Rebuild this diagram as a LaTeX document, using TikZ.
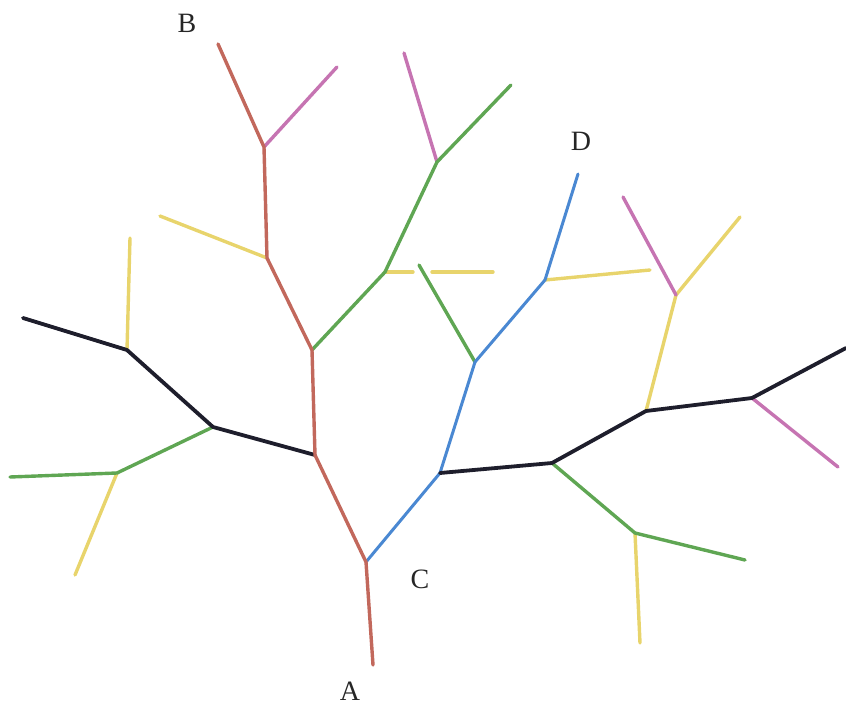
\documentclass[tikz,border=0pt]{standalone}
\usepackage{fontspec}
\setmainfont{Liberation Serif}
\definecolor{cred}{HTML}{C2685C}
\definecolor{cmag}{HTML}{C674B2}
\definecolor{cgreen}{HTML}{5FA653}
\definecolor{cyel}{HTML}{E8D46C}
\definecolor{cblue}{HTML}{4A88D2}
\definecolor{cblack}{HTML}{1E1E2C}
\tikzset{
  br/.style={line width=3.4pt, line cap=round, line join=round},
  redb/.style={br, cred},
  magb/.style={br, cmag},
  greenb/.style={br, cgreen},
  yelb/.style={br, cyel},
  blueb/.style={br, cblue, line width=3pt},
  blackb/.style={br, cblack, line width=3.8pt},
  lab/.style={font=\fontsize{28}{33}\selectfont, text=black!85, inner sep=0pt}
}
\begin{document}
\begin{tikzpicture}[x=1pt,y=-1pt]
\useasboundingbox (0,0) rectangle (846,706);
% red trunk
\coordinate (A) at (373,665);
\coordinate (C) at (366,562);
\coordinate (r1) at (315,455);
\coordinate (r2) at (312,350);
\coordinate (r3) at (267,258);
\coordinate (r4) at (264,147);
\coordinate (Bt) at (218,44);
% other tips and junctions
\coordinate (m1) at (337,67);
\coordinate (y1) at (160,216);
\coordinate (g1) at (385,272);
\coordinate (g2) at (437,162);
\coordinate (g3) at (511,85);
\coordinate (m2) at (404,53);
\coordinate (y2a) at (413,272);
\coordinate (y2b) at (432,272);
\coordinate (y2c) at (493,272);
\coordinate (b1) at (440,473);
\coordinate (b2) at (475,362);
\coordinate (b3) at (545,280);
\coordinate (Dt) at (578,174);
\coordinate (g4) at (419,265);
\coordinate (y3) at (650,270);
\coordinate (k1) at (552,463);
\coordinate (k2) at (646,411);
\coordinate (k3) at (752,398);
\coordinate (k4) at (846,348);
\coordinate (m3) at (838,467);
\coordinate (y4) at (676,295);
\coordinate (m4) at (623,197);
\coordinate (y5) at (740,217);
\coordinate (g5) at (635,533);
\coordinate (g6) at (745,560);
\coordinate (y6) at (640,643);
\coordinate (k5) at (213,427);
\coordinate (k6) at (127,350);
\coordinate (k7) at (23,318);
\coordinate (y7) at (130,238);
\coordinate (g7) at (117,473);
\coordinate (g8) at (10,477);
\coordinate (y8) at (75,575);
% yellow
\draw[yelb] (r3) -- (y1);
\draw[yelb] (g1) -- (y2a);
\draw[yelb] (y2b) -- (y2c);
\draw[yelb] (b3) -- (y3);
\draw[yelb] (k2) -- (y4) -- (y5);
\draw[yelb] (g5) -- (y6);
\draw[yelb] (k6) -- (y7);
\draw[yelb] (g7) -- (y8);
% magenta
\draw[magb] (r4) -- (m1);
\draw[magb] (g2) -- (m2);
\draw[magb] (k3) -- (m3);
\draw[magb] (y4) -- (m4);
% green
\draw[greenb] (r2) -- (g1) -- (g2) -- (g3);
\draw[greenb] (b2) -- (g4);
\draw[greenb] (k1) -- (g5) -- (g6);
\draw[greenb] (k5) -- (g7) -- (g8);
% blue
\draw[blueb] (C) -- (b1) -- (b2) -- (b3) -- (Dt);
% black
\draw[blackb] (b1) -- (k1) -- (k2) -- (k3) -- (k4);
\draw[blackb] (r1) -- (k5) -- (k6) -- (k7);
% red
\draw[redb] (A) -- (C) -- (r1) -- (r2) -- (r3) -- (r4) -- (Bt);
% labels
\node[lab] (lB) at (187,23) {B};
\node[lab] (lD) at (581,141) {D};
\node[lab] (lC) at (420,579) {C};
\node[lab] (lA) at (350,691) {A};
\end{tikzpicture}
\end{document}
